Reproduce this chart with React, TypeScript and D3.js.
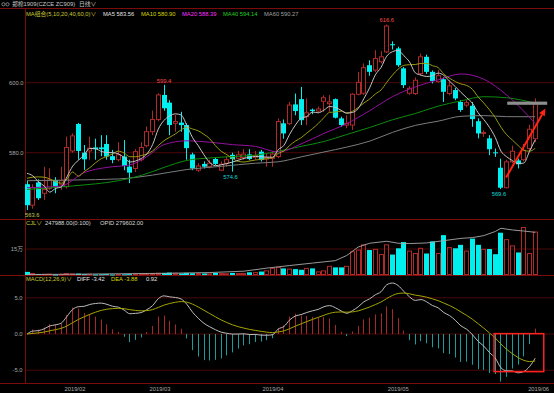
import React from 'react';
import * as d3 from 'd3';

// daily OHLC (ZC909, 2019/01 - 2019/06)
const opens = [571, 565, 571.5, 568.4, 569.8, 572.2, 571, 570.3, 580.5, 588.2, 580, 580.5, 581.5, 581.5, 582.5, 579, 578, 578.9, 576, 575.5,
  578, 582, 586, 589.5, 596.5, 594.3, 588.4, 588.6, 587.9, 579.5, 575, 576.8, 576, 578.2, 575, 577, 579.4, 578.4, 578.6, 579.5,
  578.7, 580.3, 578.2, 578.4, 578.9, 588.4, 588.3, 593.8, 595.3, 590.3, 592.3, 591.9, 594.7, 594, 595.3, 589.8, 587.9, 587.9, 596.7, 597,
  605, 603.6, 606, 608.8, 611, 609.8, 604.1, 597, 596.9, 602.6, 607.4, 603.1, 600.3, 601, 596.9, 597.9, 594.5, 593.6, 593.4, 589,
  585.5, 584.1, 580.1, 575.7, 570, 577.4, 577.8, 578, 581.2, 584];
const highs = [572, 571, 572.4, 576, 575.5, 573, 576, 584.6, 585.5, 588.5, 582.2, 584.6, 584, 585, 585, 580.8, 583, 583.6, 578, 581,
  583, 587.5, 592, 597, 599.4, 595, 590.8, 591.7, 588.4, 580, 577, 577.5, 578, 578.5, 577.5, 579, 580, 580.5, 581, 581,
  580.5, 580.8, 579.8, 580.5, 589.8, 589.5, 594.5, 596.9, 598.8, 595.5, 592.6, 593.2, 596.4, 596.5, 595.5, 590.3, 590.7, 597, 603.1, 605.5,
  606.4, 609.3, 609, 616.6, 611.8, 610.3, 604.5, 599, 601.5, 608.3, 608, 603.5, 603.6, 601.5, 600.7, 598.5, 595, 595, 594.5, 589.8,
  586.4, 585, 581.2, 578.3, 578, 582, 578.3, 582.5, 588, 595.5];
const lows = [563.6, 564, 566.5, 566.5, 569.4, 568.4, 569.4, 569.8, 580, 578, 575.1, 578, 578, 579, 578, 577, 577.5, 575, 571.3, 574.5,
  577.5, 581.5, 585, 589, 592, 585, 586, 586, 578, 575, 574.5, 575.5, 575.5, 576.5, 574.8, 576, 574.6, 578, 578, 577.8,
  578, 577.5, 576, 576, 578.4, 584, 587.9, 590.7, 587.9, 587.9, 591, 591.5, 591.7, 591.7, 589.8, 587.4, 587, 586.5, 596.4, 596.5,
  602, 603, 605.5, 608.5, 609.5, 604.5, 598.5, 596.5, 596.5, 602, 602.5, 599.8, 600, 594.5, 596.4, 595, 591.7, 593, 587.4, 584.1,
  584.5, 579.3, 578.8, 569.6, 569.8, 577, 575.5, 577.5, 580.5, 583];
const closes = [565, 570, 567, 569.5, 572.2, 570.3, 572, 581.5, 584.8, 580.5, 578.1, 581.3, 581, 581, 578.9, 577.9, 579.4, 576.2, 574.3, 580.3,
  581.5, 586, 589.5, 596.5, 592.7, 587.9, 588.9, 587.9, 581.3, 575.5, 576.2, 576, 577, 576.8, 576.7, 578, 578.2, 579.4, 579.6, 578.2,
  579.2, 577.9, 578.7, 579.6, 588.9, 585.5, 593.6, 591.9, 589.3, 591.4, 591.9, 592.5, 595.7, 594.5, 590, 587.9, 588.4, 596.7, 600.1, 604.3,
  603.1, 606.9, 607.4, 616.2, 610.7, 605, 599.3, 598.4, 600.7, 607.4, 603.1, 600.5, 602, 597.4, 599.1, 595.5, 592.2, 594.3, 589.6, 585.5,
  585.8, 581, 580, 570, 577.4, 580.4, 576.7, 580.7, 586.7, 594];
const volumes = [18000, 9000, 6000, 4000, 5000, 3000, 4000, 8000, 6000, 8000, 5000, 4000, 3000, 4000, 5000, 3000, 3000, 4000, 5000, 4000,
  5000, 6000, 8000, 10000, 12000, 14000, 10000, 9000, 12000, 10000, 8000, 9000, 7000, 12000, 8000, 7000, 12000, 8000, 9000, 16000,
  14000, 20000, 24000, 38000, 44000, 38000, 34000, 34000, 30000, 38000, 38000, 18000, 24000, 50000, 44000, 44000, 50000, 134000, 144000, 174000,
  144000, 148000, 118000, 174000, 118000, 154000, 190000, 138000, 124000, 154000, 124000, 194000, 124000, 230000, 158000, 154000, 174000, 138000, 210000, 174000,
  148000, 150000, 120000, 244000, 204000, 168000, 130000, 274000, 124000, 247988];

// open interest, read at sample days
const oiIdx = [0, 8, 16, 24, 32, 38, 42, 46, 50, 54, 56, 58, 60, 63, 65, 67, 70, 73, 76, 78, 80, 82, 83, 85, 87, 89];
const oiVal = [3000, 5000, 8000, 11000, 16000, 25000, 45000, 62000, 78000, 94000, 128000, 183000, 208000, 221000, 208000, 206000, 210000, 225000, 240000, 245000,
  258000, 285000, 306000, 295000, 288000, 279602];

// moving averages: short ones from closes (lead values read), long ones read at sample days
const ma5Lead = [574.1, 573.4, 571.7, 570.5];
const ma10Lead = [572.7, 573, 573.1, 573, 572.5, 571.7, 571.3, 572.5, 574.5];
const ma20Idx = [0, 6, 10, 14, 18, 21, 24, 28, 32, 36, 40, 44, 48, 52, 56, 60, 64, 68, 72, 76, 80, 84, 89];
const ma20Val = [570, 570.5, 574.3, 575.8, 576.5, 578.9, 582.3, 583.4, 583, 582.3, 581.8, 580.2, 582.5, 585.5, 588.3, 592, 596, 598.8, 600.8, 602.5, 601, 596.5, 588.39];
const ma40Idx = [0, 8, 16, 20, 24, 28, 32, 36, 40, 44, 48, 52, 56, 60, 64, 68, 72, 76, 80, 84, 89];
const ma40Val = [569.5, 570.5, 572, 573.5, 575.8, 577.8, 578.5, 578.9, 579.3, 580.4, 581.8, 583.2, 585.2, 587.2, 589.4, 591.2, 593.3, 594.8, 596, 595.7, 594.14];
const ma60Idx = [0, 8, 16, 22, 28, 34, 40, 44, 48, 52, 56, 60, 64, 68, 72, 76, 80, 84, 89];
const ma60Val = [572, 572.2, 572.5, 573.6, 575.2, 576.1, 577, 577.4, 578.8, 580.2, 581.6, 583.3, 585.8, 587.8, 589, 590.4, 590.6, 590.3, 590.27];

const priceTicks = [600, 580];
const volTicks = [150000];
const volTickLabels = ['15万'];
const macdTicks = [5, 0, -5];
const monthLabels = ['2019/02', '2019/03', '2019/04', '2019/05', '2019/06'];
const monthIdx = [8.4, 23.3, 43.1, 65, 89.6];

// marked extremes
const extremeIdx = [24, 63, 36, 83, 0];
const extremeKind = ['high', 'high', 'low', 'low', 'min'];

// hand drawn marks
const arrowFrom = { i: 83.9, p: 572.9 };
const arrowTo = { i: 90.8, p: 592.6 };
const barMark = { i0: 84.1, i1: 91.1, p: 594.14 };
const macdBox = { i0: 81.8, i1: 90.5, top: 0.05, bottom: -5.2 };

const RED = '#b02a2a';
const CYAN = '#00f0f0';
const FRAME = '#7a0c0c';
const GRID = '#4a0808';
const FONT = '"Liberation Sans", "Noto Sans CJK SC", sans-serif';

const ema = (arr: number[], n: number) => {
  const k = 2 / (n + 1);
  const out: number[] = [];
  arr.forEach((v, i) => out.push(i === 0 ? v : v * k + out[i - 1] * (1 - k)));
  return out;
};

const rolling = (n: number, lead: number[]) =>
  closes.map((_, i) => (i < n - 1 ? lead[i] : d3.mean(closes.slice(i - n + 1, i + 1)) as number));

export default function App() {
  const x = d3.scaleLinear().domain([0, 89]).range([27, 535.2]);
  const yP = d3.scaleLinear().domain([580, 600]).range([152.7, 82.7]);
  const yV = d3.scaleLinear().domain([0, 150000]).range([275, 249]);
  const yOI = d3.scaleLinear().domain([0, 300000]).range([275, 229.2]);
  const yM = d3.scaleLinear().domain([-5, 5]).range([370.2, 297.8]);

  const left = (i: number) => Math.round(x(i) - 2.5);

  const ma5 = rolling(5, ma5Lead);
  const ma10 = rolling(10, ma10Lead);

  const e12 = ema(closes, 12);
  const e26 = ema(closes, 26);
  const diff = closes.map((_, i) => e12[i] - e26[i]);
  const dea = ema(diff, 9);
  const hist = diff.map((d, i) => 2 * (d - dea[i]));

  const lineIdx = d3.line<number>().x((_, i) => x(i)).y(d => yP(d)).curve(d3.curveMonotoneX);
  const sampled = (idx: number[], vals: number[]) =>
    d3.line<number>().x((_, k) => x(idx[k])).y(d => yP(d)).curve(d3.curveMonotoneX)(vals) as string;
  const oiLine = d3.line<number>().x((_, k) => x(oiIdx[k])).y(d => yOI(d))(oiVal) as string;
  const macdLine = d3.line<number>().x((_, i) => x(i)).y(d => yM(d)).curve(d3.curveMonotoneX);

  // arrow head
  const ax0 = x(arrowFrom.i), ay0 = yP(arrowFrom.p), ax1 = x(arrowTo.i), ay1 = yP(arrowTo.p);
  const len = Math.hypot(ax1 - ax0, ay1 - ay0);
  const ux = (ax1 - ax0) / len, uy = (ay1 - ay0) / len;
  const hb = { x: ax1 - ux * 7, y: ay1 - uy * 7 };
  const head = `${ax1},${ay1} ${hb.x - uy * 3.2},${hb.y + ux * 3.2} ${hb.x + uy * 3.2},${hb.y - ux * 3.2}`;

  const txt = (props: any, s: string) => (
    <text fontFamily={FONT} fontSize={5.8} dominantBaseline="central" {...props}>{s}</text>
  );

  return (
    <>
      <style>{`body{margin:0;background:#000}`}</style>
      <svg width={554} height={393} style={{ display: 'block', background: '#000' }}>
        {/* header */}
        <circle cx={3.5} cy={4.3} r={1.6} fill="none" stroke="#9a9a9a" strokeWidth={0.8} />
        <circle cx={7.5} cy={4.3} r={1.6} fill="none" stroke="#9a9a9a" strokeWidth={0.8} />
        {txt({ x: 12, y: 4.3, fill: '#c8c8c8' }, '郑棉1909(CZCE ZC909)')}
        {txt({ x: 79, y: 4.3, fill: '#c8c8c8' }, '日线∨')}

        {/* frame + grid */}
        {priceTicks.map(t => (
          <g key={'p' + t}>
            <line x1={25} x2={554} y1={yP(t)} y2={yP(t)} stroke={GRID} />
            {txt({ x: 23.5, y: yP(t), fill: '#a8a8a8', textAnchor: 'end' }, t.toFixed(1))}
          </g>
        ))}
        {volTicks.map((t, k) => (
          <g key={'v' + t}>
            <line x1={25} x2={554} y1={yV(t)} y2={yV(t)} stroke={GRID} />
            {txt({ x: 23, y: yV(t), fill: '#a8a8a8', textAnchor: 'end' }, volTickLabels[k])}
          </g>
        ))}
        {macdTicks.map(t => (
          <g key={'m' + t}>
            <line x1={25} x2={554} y1={yM(t)} y2={yM(t)} stroke={GRID} />
            {txt({ x: 22.5, y: yM(t), fill: '#a8a8a8', textAnchor: 'end' }, t.toFixed(1))}
          </g>
        ))}
        {[8.5, 219.5, 275.5, 383.5].map(v => (
          <line key={v} x1={0} x2={554} y1={v} y2={v} stroke={FRAME} />
        ))}
        <line x1={25.5} x2={25.5} y1={8.5} y2={383.5} stroke={FRAME} />

        {/* candles */}
        {closes.map((c, i) => {
          const o = opens[i];
          const up = c > o;
          const l = left(i);
          const cx = l + 2.5;
          const top = yP(Math.max(o, c)), bot = yP(Math.min(o, c));
          if (up) {
            return (
              <g key={i} stroke={RED} fill="none">
                <line x1={cx} x2={cx} y1={yP(highs[i])} y2={top} />
                <line x1={cx} x2={cx} y1={bot} y2={yP(lows[i])} />
                <rect x={l + 0.5} y={top} width={4} height={Math.max(bot - top, 0.5)} fill="#000" />
              </g>
            );
          }
          return (
            <g key={i}>
              <line x1={cx} x2={cx} y1={yP(highs[i])} y2={yP(lows[i])} stroke={CYAN} />
              <rect x={l} y={top} width={5} height={Math.max(bot - top, 1)} fill={CYAN} />
            </g>
          );
        })}

        {/* moving averages */}
        <path d={sampled(ma60Idx, ma60Val)} fill="none" stroke="#7c7c7c" strokeWidth={1} />
        <path d={sampled(ma40Idx, ma40Val)} fill="none" stroke="#0c8c0c" strokeWidth={1} />
        <path d={sampled(ma20Idx, ma20Val)} fill="none" stroke="#9410a0" strokeWidth={1} />
        <path d={lineIdx(ma10) as string} fill="none" stroke="#9a9a10" strokeWidth={1} />
        <path d={lineIdx(ma5) as string} fill="none" stroke="#c4c4c4" strokeWidth={1} />

        {/* legend */}
        {txt({ x: 26, y: 13.6, fill: '#c8c832' }, 'MA组合(5,10,20,40,60,0)∨')}
        {txt({ x: 103, y: 13.6, fill: '#e0e0e0' }, 'MA5 583.56')}
        {txt({ x: 141, y: 13.6, fill: '#d8d800' }, 'MA10 580.90')}
        {txt({ x: 182, y: 13.6, fill: '#ff30ff' }, 'MA20 588.39')}
        {txt({ x: 223, y: 13.6, fill: '#22cc22' }, 'MA40 594.14')}
        {txt({ x: 264, y: 13.6, fill: '#a0a0a0' }, 'MA60 590.27')}

        {/* extremes */}
        {extremeIdx.map((i, k) => {
          const kind = extremeKind[k];
          if (kind === 'high') return <g key={k}>{txt({ x: x(i), y: yP(highs[i]) - 4.2, fill: '#ff4a4a', textAnchor: 'middle' }, highs[i].toFixed(1))}</g>;
          if (kind === 'low') return <g key={k}>{txt({ x: x(i) - 2, y: yP(lows[i]) + 5, fill: '#10d8d8', textAnchor: 'middle' }, lows[i].toFixed(1))}</g>;
          return <g key={k}>{txt({ x: x(i) - 2, y: yP(lows[i]) + 4.5, fill: '#c0c850' }, lows[i].toFixed(1))}</g>;
        })}

        {/* hand drawn marks */}
        <rect x={x(barMark.i0)} y={yP(barMark.p) - 1.6} width={x(barMark.i1) - x(barMark.i0)} height={3.2} fill="#8e8e8e" />
        <line x1={ax0} y1={ay0} x2={hb.x} y2={hb.y} stroke="#ff2414" strokeWidth={2} />
        <polygon points={head} fill="#ff2414" />

        {/* volume */}
        {txt({ x: 26, y: 223.3, fill: '#c8c832' }, 'CJL∨')}
        {txt({ x: 45, y: 223.3, fill: '#d8d8d8' }, '247988.00(0:100)')}
        {txt({ x: 100, y: 223.3, fill: '#d8d8d8' }, 'OPID 279602.00')}
        {volumes.map((v, i) => {
          const up = closes[i] > opens[i];
          const l = left(i);
          const t = yV(v);
          return up ? (
            <rect key={i} x={l + 0.5} y={t} width={4} height={Math.max(275 - t - 0.5, 0.5)} fill="none" stroke={RED} />
          ) : (
            <rect key={i} x={l} y={t} width={5} height={Math.max(275 - t, 1)} fill={CYAN} />
          );
        })}
        <path d={oiLine} fill="none" stroke="#a8a8a8" strokeWidth={0.9} />

        {/* MACD */}
        {txt({ x: 26, y: 279, fill: '#c8c832' }, 'MACD(12,26,9)∨')}
        {txt({ x: 77, y: 279, fill: '#e0e0e0' }, 'DIFF -3.42')}
        {txt({ x: 111, y: 279, fill: '#d8d800' }, 'DEA -3.88')}
        {txt({ x: 146, y: 279, fill: '#e0e0e0' }, '0.92')}
        {hist.map((h, i) => (
          <line key={i} x1={left(i) + 2.5} x2={left(i) + 2.5} y1={yM(0)} y2={yM(h)} stroke={h >= 0 ? '#a82828' : '#1a9c9c'} />
        ))}
        <path d={macdLine(diff) as string} fill="none" stroke="#bcbcbc" strokeWidth={1} />
        <path d={macdLine(dea) as string} fill="none" stroke="#a4a400" strokeWidth={1} />
        <rect x={x(macdBox.i0)} y={yM(macdBox.top)} width={x(macdBox.i1) - x(macdBox.i0)} height={yM(macdBox.bottom) - yM(macdBox.top)}
          fill="none" stroke="#ff2020" strokeWidth={1.5} />

        {/* months */}
        {monthLabels.map((m, k) => (
          <g key={m}>{txt({ x: x(monthIdx[k]), y: 388.5, fill: '#a8a8a8', textAnchor: 'middle' }, m)}</g>
        ))}
      </svg>
    </>
  );
}
